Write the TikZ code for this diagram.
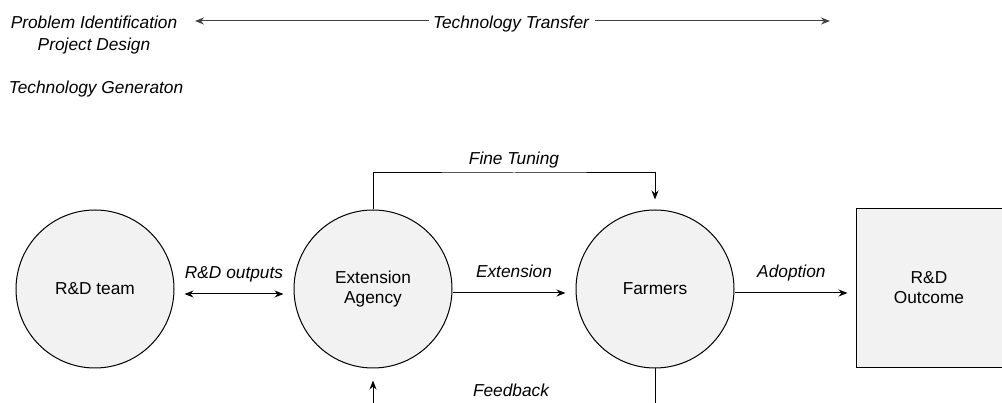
\documentclass[tikz,border=0pt]{standalone}
\usepackage{fontspec}
\setmainfont{Liberation Sans}
\usetikzlibrary{arrows.meta}
\definecolor{nodefill}{RGB}{242,242,242}
\newcommand{\diagfont}{\fontsize{17.3}{20}\selectfont}
\tikzset{
  unit/.style={circle, draw, fill=nodefill, minimum size=158pt, inner sep=0pt, align=center, font=\diagfont},
  outcome/.style={rectangle, draw, fill=nodefill, minimum width=146pt, minimum height=159pt, inner sep=0pt, align=center, font=\diagfont},
  lbl/.style={font=\diagfont\itshape, anchor=base, inner sep=0pt},
  flow/.style={-{Stealth[length=9pt,width=7pt]}},
  dflow/.style={{Stealth[length=9pt,width=7pt]}-{Stealth[length=9pt,width=7pt]}},
}

\begin{document}
\begin{tikzpicture}[x=1pt, y=-1pt, line width=1pt]

\clip (0,0) rectangle (1002,403);

% top labels
\node[lbl] (probid) at (94,29) {Problem Identification};
\node[lbl] (projdes) at (94,51) {Project Design};
\node[lbl] (techgen) at (96,94) {Technology Generaton};
\node[lbl] (techtr) at (511,29) {Technology Transfer};
\coordinate (ttl) at (195,21);
\coordinate (ttr) at (830,21);
\draw[flow, black!75, shorten <=4pt] (techtr.west |- ttl) -- (ttl);
\draw[flow, black!75, shorten <=6pt] (techtr.east |- ttr) -- (ttr);

% main units
\node[unit] (rd) at (95,289) {R\&D team};
\node[unit] (ext) at (373,289) {Extension\\Agency};
\node[unit] (farm) at (655,289) {Farmers};
\node[outcome] (out) at (929,288) {R\&D\\Outcome};

% flows
\draw[dflow, shorten <=10pt, shorten >=10pt] ([yshift=-5pt]rd.east) -- ([yshift=-5pt]ext.west)
  node[lbl, midway, yshift=15pt] {R\&D outputs};
\draw[flow, shorten >=10pt] ([yshift=-4pt]ext.east) -- ([yshift=-4pt]farm.west)
  node[lbl, midway, yshift=15pt] {Extension};
\draw[flow, shorten >=8pt] ([yshift=-4pt]farm.east) -- ([yshift=-4pt]farm.east -| out.west)
  node[lbl, pos=0.47, yshift=15pt] {Adoption};

\coordinate (ft) at (514,173);
\draw[flow] (ext.north) |- (ft) -| ([yshift=10pt]farm.north);
\node[lbl, yshift=8pt] (ftlbl) at (ft) {Fine Tuning};

\coordinate (fb) at (514,425);
\draw[flow] (farm.south) |- (fb) -| ([yshift=-12pt]ext.south);
\node[lbl] (fblbl) at (511,397) {Feedback};

\end{tikzpicture}
\end{document}
